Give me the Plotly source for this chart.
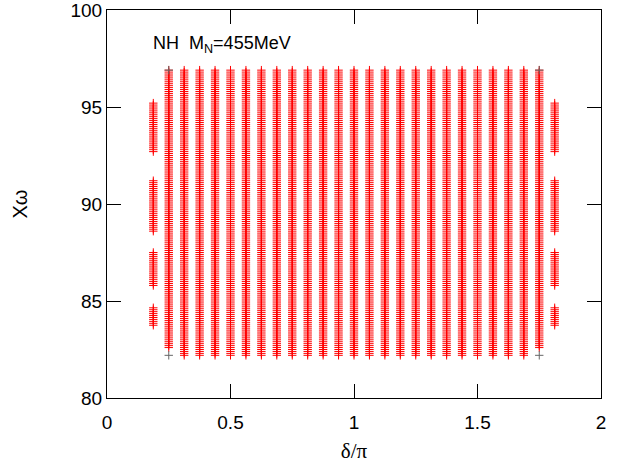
import numpy as np
import plotly.graph_objects as go

# column positions (delta/pi)
full_cols = [0.25, 0.3125, 0.375, 0.4375, 0.5, 0.5625, 0.625, 0.6875, 0.75,
             0.8125, 0.875, 0.9375, 1.0, 1.0625, 1.125, 1.1875, 1.25, 1.3125,
             1.375, 1.4375, 1.5, 1.5625, 1.625, 1.6875, 1.75]
edge_cols = [0.25, 1.75]
side_cols = [0.1875, 1.8125]

# X_omega ranges covered in each kind of column
full_range = [82.2, 96.9]
edge_range = [82.6, 96.9]
side_ranges = [[83.75, 84.65], [85.8, 87.55], [88.6, 91.2], [92.7, 95.25]]
end_points_y = [82.2, 96.9]
scan_step = 0.1

xs, ys = [], []
for c in full_cols:
    lo, hi = edge_range if c in edge_cols else full_range
    v = np.arange(lo, hi + 1e-9, scan_step)
    xs += [c] * len(v)
    ys += list(v)
for c in side_cols:
    for lo, hi in side_ranges:
        v = np.arange(lo, hi + 1e-9, scan_step)
        xs += [c] * len(v)
        ys += list(v)

ex, ey = [], []
for c in edge_cols:
    for y in end_points_y:
        ex.append(c)
        ey.append(y)

fig = go.Figure()
fig.add_trace(go.Scatter(
    x=xs, y=ys, mode='markers',
    marker=dict(symbol='cross-thin', size=6, line=dict(color='#ff0000', width=1)),
    showlegend=False,
))
fig.add_trace(go.Scatter(
    x=ex, y=ey, mode='markers',
    marker=dict(symbol='cross-thin', size=6, line=dict(color='#666666', width=1)),
    showlegend=False,
))

fig.add_annotation(
    x=0.18, y=98.2, xref='x', yref='y', xanchor='left', yanchor='middle',
    text='NH  M<sub>N</sub>=455MeV', showarrow=False,
    font=dict(family='Liberation Sans, Arial', size=18, color='black'),
)

axis_common = dict(
    showline=True, linecolor='black', linewidth=1, mirror='ticks',
    ticks='inside', ticklen=14, tickcolor='black', showgrid=False, zeroline=False,
    ticklabeloverflow='allow', automargin=False,
    tickfont=dict(family='Liberation Sans, Arial', size=19, color='black'),
)
fig.update_xaxes(range=[0, 2], tickvals=[0, 0.5, 1, 1.5, 2],
                 ticktext=['0', '0.5', '1', '1.5', '2'], ticklabelstandoff=7,
                 title=dict(text='δ/π', font=dict(family='Liberation Serif, Times New Roman', size=21, color='black'), standoff=12),
                 **axis_common)
fig.update_yaxes(range=[80, 100], tickvals=[80, 85, 90, 95, 100],
                 ticktext=['80', '85', '90', '95', '100'],
                 title=dict(text='Xω', font=dict(family='Liberation Sans, Arial', size=20, color='black'), standoff=37),
                 **axis_common)

fig.update_layout(
    width=625, height=463,
    margin=dict(l=107, r=24, t=10, b=65),
    plot_bgcolor='white', paper_bgcolor='white',
)

fig.write_html("out.html", config={'displayModeBar': False},
               post_script="document.body.style.margin='0px';")
